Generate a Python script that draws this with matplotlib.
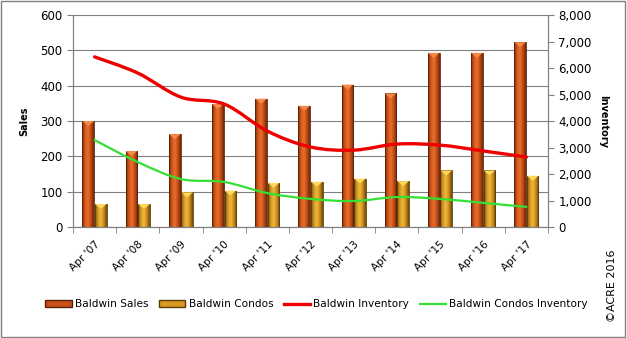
import numpy as np
import matplotlib
matplotlib.use('Agg')
import matplotlib.pyplot as plt
from matplotlib.path import Path
from matplotlib.patches import PathPatch, Patch, Polygon, Rectangle
from matplotlib.lines import Line2D
from matplotlib.colors import LinearSegmentedColormap

plt.rcParams['font.family'] = 'DejaVu Sans'

years = ["Apr '07", "Apr '08", "Apr '09", "Apr '10", "Apr '11", "Apr '12",
         "Apr '13", "Apr '14", "Apr '15", "Apr '16", "Apr '17"]
sales = [300, 215, 263, 348, 363, 343, 403, 378, 493, 493, 523]
condos = [65, 65, 98, 103, 125, 128, 137, 130, 160, 160, 145]
inventory = [6420, 5810, 4900, 4640, 3620, 3020, 2900, 3130, 3090, 2870, 2640]
condo_inventory = [3280, 2450, 1810, 1700, 1280, 1060, 980, 1130, 1060, 910, 760]


def smooth_path(x, y):
    # Catmull-Rom style bezier through the points (like Excel "smoothed line")
    pts = np.column_stack([x, y]).astype(float)
    n = len(pts)
    verts = [pts[0]]
    codes = [Path.MOVETO]
    for i in range(n - 1):
        p0 = pts[max(i - 1, 0)]
        p1 = pts[i]
        p2 = pts[i + 1]
        p3 = pts[min(i + 2, n - 1)]
        c1 = p1 + (p2 - p0) / 6.0
        c2 = p2 - (p3 - p1) / 6.0
        verts += [c1, c2, p2]
        codes += [Path.CURVE4] * 3
    return Path(verts, codes)


sales_cmap = LinearSegmentedColormap.from_list(
    'sales', ['#7a2e08', '#d4561a', '#e8702e', '#c04a14', '#6e2806'])
condo_cmap = LinearSegmentedColormap.from_list(
    'condo', ['#7a5208', '#d89a22', '#f0b840', '#c88a18', '#6e4a06'])
grad = np.linspace(0, 1, 64).reshape(1, -1)


def draw_bars(ax, xs, vals, w, cmap, cap_color, edge):
    cap_h = 14
    for x, v in zip(xs, vals):
        rect = Rectangle((x - w / 2, 0), w, v, facecolor='none', edgecolor=edge,
                         linewidth=0.6, zorder=3)
        ax.add_patch(rect)
        im = ax.imshow(grad, cmap=cmap, aspect='auto', zorder=2,
                       extent=[x - w / 2, x + w / 2, 0, v], interpolation='bilinear')
        im.set_clip_path(rect)
        ax.add_patch(Polygon([[x - w / 2, v], [x + w / 2, v], [x, v - cap_h]],
                             closed=True, facecolor=cap_color, edgecolor='none',
                             zorder=4))


fig = plt.figure(figsize=(6.27, 3.38), dpi=100)
ax = fig.add_axes([0.1164, 0.3284, 0.7576, 0.6272])
ax2 = ax.twinx()

idx = np.arange(len(years))
w = 0.27
draw_bars(ax, idx - 0.145, sales, w, sales_cmap, '#f58a4a', '#5a2006')
draw_bars(ax, idx + 0.145, condos, w, condo_cmap, '#ffd860', '#5a3c06')

ax2.add_patch(PathPatch(smooth_path(idx, inventory), facecolor='none',
                        edgecolor='#ee0000', linewidth=2.4, capstyle='round'))
ax2.add_patch(PathPatch(smooth_path(idx, condo_inventory), facecolor='none',
                        edgecolor='#33e033', linewidth=1.6, capstyle='round'))

ax.set_xlim(-0.5, len(years) - 0.5)
ax.set_ylim(0, 600)
ax2.set_ylim(0, 8000)
ax.set_yticks(range(0, 601, 100))
ax2.set_yticks(range(0, 8001, 1000))
ax2.set_yticklabels(['{:,}'.format(v) for v in range(0, 8001, 1000)])

ax.set_xticks(idx)
ax.set_xticklabels(years, rotation=45, ha='right', rotation_mode='anchor')
ax.set_xticks(np.arange(-0.5, len(years)), minor=True)
ax.tick_params(axis='x', which='major', length=0, pad=9, labelsize=7.6)
ax.tick_params(axis='x', which='minor', length=4, color='#808080')
ax.tick_params(axis='y', length=4, color='#808080', labelsize=8.5)
ax2.tick_params(axis='y', length=4, color='#808080', labelsize=8.5)

ax.set_axisbelow(True)
ax.grid(axis='y', color='#808080', linewidth=0.8)
for a in (ax, ax2):
    a.spines['top'].set_visible(False)
    for s in ('left', 'right', 'bottom'):
        a.spines[s].set_color('#808080')

ax.set_ylabel('Sales', fontsize=7, fontweight='bold', labelpad=8)
ax2.set_ylabel('Inventory', fontsize=7, fontweight='bold', rotation=-90, labelpad=12)

handles = [Patch(facecolor='#c8501a', edgecolor='#5a2006'),
           Patch(facecolor='#d89a22', edgecolor='#5a3c06'),
           Line2D([], [], color='#ee0000', linewidth=2.4),
           Line2D([], [], color='#33e033', linewidth=1.6)]
labels = ['Baldwin Sales', 'Baldwin Condos', 'Baldwin Inventory', 'Baldwin Condos Inventory']
fig.legend(handles, labels, loc='center', bbox_to_anchor=(0.505, 0.1), ncol=4,
           frameon=False, fontsize=7.6, handlelength=2.5, handleheight=0.55,
           handletextpad=0.3, columnspacing=1.0)

fig.text(0.976, 0.154, '\u00a9ACRE 2016', rotation=90, fontsize=8,
         ha='center', va='center')
fig.add_artist(Rectangle((0.002, 0.003), 0.995, 0.993, transform=fig.transFigure,
                         facecolor='none', edgecolor='#808080', linewidth=1))

fig.savefig('out.png', dpi=100)
